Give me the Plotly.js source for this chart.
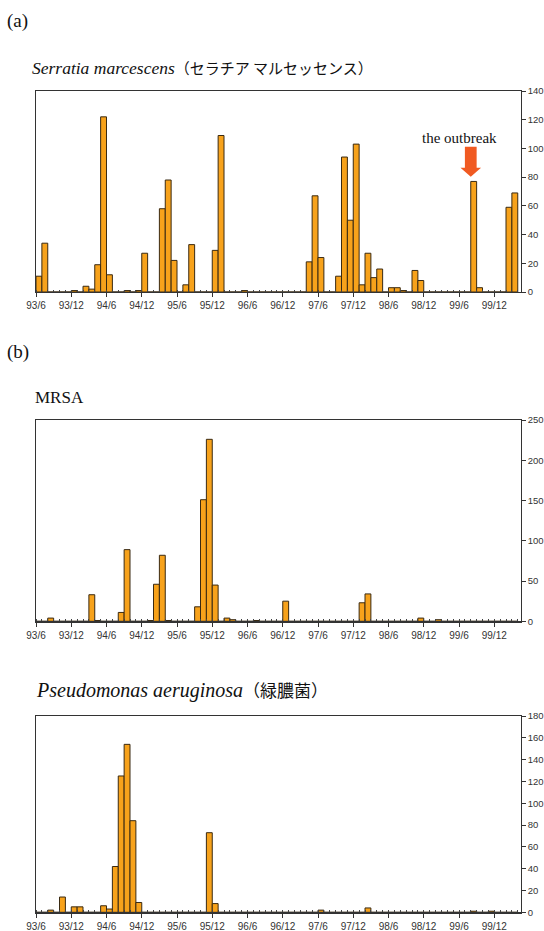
<!DOCTYPE html>
<html>
<head>
<meta charset="utf-8">
<script src="https://cdn.plot.ly/plotly-3.0.1.min.js"></script>
<style>html,body{margin:0;padding:0;background:#fff;}#chart{width:544px;height:931px;}</style>
</head>
<body>
<div id="chart"></div>
<script>
// Monthly counts, index 0 = 93/6 ... index 81 = 00/3
const tickLabels = ["93/6","93/12","94/6","94/12","95/6","95/12","96/6","96/12","97/6","97/12","98/6","98/12","99/6","99/12"];
const tickMonths = [0,6,12,18,24,30,36,42,48,54,60,66,72,78];

const serratia = [
  11,34,0,0,0,0,1,0,4,2,19,122,
  12,0,0,1,0,1,27,0,0,58,78,22,
  0,5,33,0,0,0,29,109,0,0,0,1,
  0,0,0,0,0,0,0,0,0,0,21,67,
  24,0,0,11,94,50,103,5,27,10,16,0,
  3,3,1,0,15,8,0,0,0,0,0,0,
  0,0,77,3,0,0,0,0,59,69
];
const mrsa = [
  0,0,4,0,0,0,0,0,0,33,1,0,
  0,0,11,89,0,0,0,1,46,82,1,0,
  0,0,0,18,151,226,45,0,4,2,0,0,
  0,1,0,0,0,0,25,0,0,0,0,0,
  0,0,0,0,0,0,0,23,34,0,0,0,
  0,0,0,0,0,4,0,0,2,0,0,0,
  0,0,0,0,0,0,0,0,0,0
];
const pseudomonas = [
  0,0,2,0,14,0,5,5,0,0,0,6,
  3,42,125,154,84,9,0,0,0,0,0,0,
  0,0,0,0,0,73,8,0,0,0,0,0,
  0,0,0,0,0,0,0,0,0,0,0,0,
  2,0,0,0,0,0,0,0,4,0,0,0,
  0,0,0,0,0,0,0,0,0,0,0,0,
  0,0,1,0,0,1,0,0,0,0
];

const outbreakMonth = 74;

const W = 544, H = 931;
const xs = serratia.map((_, i) => i + 0.5);

function barTrace(vals, xa, ya) {
  return {
    type: 'bar', x: xs, y: vals, width: 1, xaxis: xa, yaxis: ya,
    marker: {color: '#F7A21B', line: {color: '#3a2a12', width: 1}},
    hoverinfo: 'x+y', showlegend: false
  };
}

const xdom = [36 / W, 520.7 / W];
function pdom(top, bottom) { return [1 - bottom / H, 1 - top / H]; }

function xaxisCfg(anchor) {
  return {
    domain: xdom, anchor: anchor, range: [0, 82.5],
    tickmode: 'array', tickvals: tickMonths, ticktext: tickLabels,
    ticks: 'outside', ticklen: 4, tickcolor: '#333', tickwidth: 1,
    minor: {ticks: 'inside', ticklen: 2, dtick: 1, tick0: 0, tickcolor: '#444', tickwidth: 1},
    showline: true, linecolor: '#333', linewidth: 1.2, mirror: true,
    showgrid: false, zeroline: false,
    tickfont: {family: 'Liberation Sans, Arial, sans-serif', size: 10, color: '#333'},
    fixedrange: true
  };
}
function yaxisCfg(anchor, dom, max, dt) {
  return {
    domain: dom, anchor: anchor, side: 'right', range: [0, max], dtick: dt,
    ticks: 'outside', ticklen: 4, tickcolor: '#333',
    showline: true, linecolor: '#333', linewidth: 1.2, mirror: true,
    showgrid: false, zeroline: false,
    tickfont: {family: 'Liberation Sans, Arial, sans-serif', size: 9.5, color: '#333'},
    fixedrange: true
  };
}

const data = [
  barTrace(serratia, 'x', 'y'),
  barTrace(mrsa, 'x2', 'y2'),
  barTrace(pseudomonas, 'x3', 'y3')
];

const serif = 'Liberation Serif, Times New Roman, serif';
function ann(text, px, py, size) {
  return {text: text, xref: 'paper', yref: 'paper', x: px / W, y: 1 - py / H,
          xanchor: 'left', yanchor: 'middle', showarrow: false,
          font: {family: serif, size: size, color: '#111'}};
}

const m = outbreakMonth;
const arrowPath = `M ${m-1.0} 101.2 L ${m+1.0} 101.2 L ${m+1.0} 86.6 L ${m+1.75} 86.6 L ${m} 80.3 L ${m-1.75} 86.6 L ${m-1.0} 86.6 Z`;

const layout = {
  width: W, height: H,
  margin: {l: 0, r: 0, t: 0, b: 0},
  paper_bgcolor: '#fff', plot_bgcolor: '#fff',
  bargap: 0,
  xaxis: xaxisCfg('y'),
  yaxis: yaxisCfg('x', pdom(91, 292), 140, 20),
  xaxis2: xaxisCfg('y2'),
  yaxis2: yaxisCfg('x2', pdom(420, 621.3), 250, 50),
  xaxis3: xaxisCfg('y3'),
  yaxis3: yaxisCfg('x3', pdom(716, 912.3), 180, 20),
  annotations: [
    ann('(a)', 5, 21, 19),
    ann('<i>Serratia marcescens</i><span style="font-family:\'Noto Sans CJK JP\';font-size:15px">（セラチア マルセッセンス）</span>', 30, 67, 17.5),
    ann('(b)', 5, 352, 19),
    ann('MRSA', 33, 397, 17),
    ann('<i>Pseudomonas aeruginosa</i><span style="font-family:\'Noto Sans CJK JP\';font-size:17px">（緑膿菌）</span>', 34, 689, 20),
    {text: 'the outbreak', xref: 'x', yref: 'y', x: m - 2, y: 107.5,
     xanchor: 'center', yanchor: 'middle', showarrow: false,
     font: {family: serif, size: 15, color: '#111'}}
  ],
  shapes: [
    {type: 'path', xref: 'x', yref: 'y', path: arrowPath,
     fillcolor: '#F05A22', line: {width: 0}}
  ]
};

Plotly.newPlot('chart', data, layout, {displayModeBar: false, staticPlot: true});
</script>
</body>
</html>
